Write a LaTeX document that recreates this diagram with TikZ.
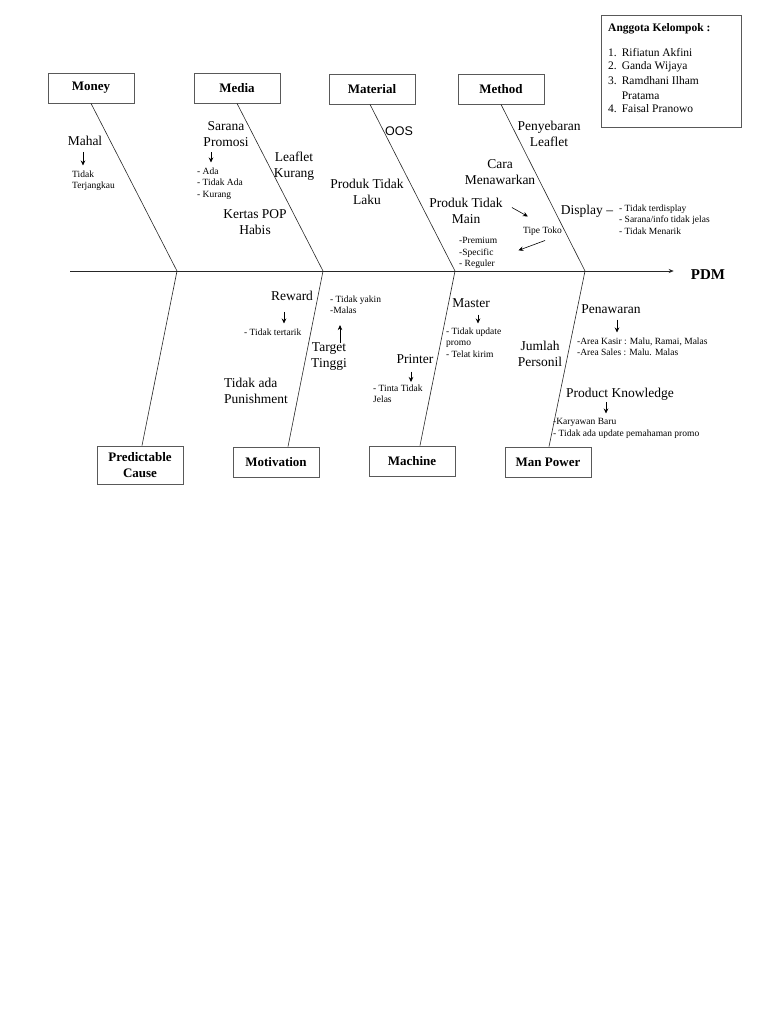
\documentclass[tikz,border=0pt]{standalone}
\usepackage{fontspec}
\setmainfont{Liberation Serif}
\setsansfont{Liberation Sans}
\usetikzlibrary{arrows.meta}

\begin{document}
\begin{tikzpicture}[
    x=1pt, y=-1pt,
    every node/.style={inner sep=0pt, font=\fontsize{13.5}{15.5}\selectfont},
    catbox/.style={draw=black!65, line width=0.8pt, minimum width=86pt, minimum height=30pt, align=center, font=\fontsize{13}{16}\selectfont\bfseries},
    cause/.style={align=center},
    detail/.style={align=left, anchor=north west, font=\fontsize{9.5}{11.5}\selectfont},
    bone/.style={line width=0.6pt, black!85},
    arrow/.style={-{Stealth[length=5pt, width=4.5pt]}, line width=0.6pt, shorten <=6pt, shorten >=5pt}
]
\useasboundingbox (0,0) rectangle (768,1024);

\node[catbox] (money) at (91,88) {Money};
\node[catbox] (media) at (237,88) {Media};
\node[catbox] (material) at (372,89) {Material};
\node[catbox] (method) at (501,89) {Method};
\node[catbox, minimum height=38pt] (predictable) at (140,465) {Predictable\\Cause};
\node[catbox] (motivation) at (276,462) {Motivation};
\node[catbox] (machine) at (412,461) {Machine};
\node[catbox] (manpower) at (548,462) {Man Power};

\node[draw=black!65, line width=0.8pt, anchor=north west, minimum width=140pt, minimum height=112pt] (anggota) at (601,15) {};
\node[anchor=north west, font=\fontsize{11.5}{13}\selectfont] (members) at (608,22) {\begin{tabular}{@{}l@{\hspace{5pt}}l@{}}
    \multicolumn{2}{@{}l@{}}{\textbf{Anggota Kelompok :}}\\[12pt]
    1. & Rifiatun Akfini\\
    2. & Ganda Wijaya\\[2pt]
    3. & Ramdhani Ilham\\[2pt]
       & Pratama\\[0.5pt]
    4. & Faisal Pranowo
\end{tabular}};

\coordinate (tail) at (70,271);
\coordinate (j1) at (177,271);
\coordinate (j2) at (323,271);
\coordinate (j3) at (455,271);
\coordinate (j4) at (585,271);
\node[font=\fontsize{15}{18}\selectfont\bfseries] (pdm) at (708,275) {PDM};

\draw[bone, -{Stealth[length=5pt, width=4pt]}, shorten >=17pt] (tail) -- (tail -| pdm.west);
\draw[bone] (money.south) -- (j1) -- ([xshift=2pt]predictable.north);
\draw[bone] (media.south) -- (j2) -- ([xshift=12pt]motivation.north);
\draw[bone] ([xshift=-2pt]material.south) -- (j3) -- ([xshift=8pt]machine.north);
\draw[bone] (method.south) -- (j4) -- ([xshift=1pt]manpower.north);

\node (mahal) at (85,141) {Mahal};
\node[detail] (mahalnote) at (72,170.5) {Tidak\\Terjangkau};
\node[cause] (sarana) at (226,134) {Sarana\\Promosi};
\node[detail] (saranalist) at (197,167.5) {- Ada\\- Tidak Ada\\- Kurang};
\node[cause] (leaflet) at (294,166) {Leaflet\\Kurang};
\node[cause] (kertas) at (255,222) {Kertas POP\\Habis};
\node[font=\fontsize{12.5}{15}\selectfont\sffamily] (oos) at (399,131) {OOS};
\node[cause] (produklaku) at (367,192) {Produk Tidak\\Laku};
\node[cause] (penyebaran) at (549,134) {Penyebaran\\Leaflet};
\node[cause] (cara) at (500,172) {Cara\\Menawarkan};
\node[cause] (produkmain) at (466,211) {Produk Tidak\\Main};
\node[font=\fontsize{9.5}{11.5}\selectfont] (tipetoko) at (542.5,231) {Tipe Toko};
\node[detail] (tipelist) at (459,237.5) {-Premium\\-Specific\\- Reguler};
\node (display) at (587,211.5) {Display –};
\node[detail] (displaylist) at (619,204.5) {- Tidak terdisplay\\- Sarana/info tidak jelas\\- Tidak Menarik};

\node (reward) at (292,296) {Reward};
\node[detail] (rewardnote) at (244,328.5) {- Tidak tertarik};
\node[detail] (targetnote) at (330,295.5) {- Tidak yakin\\-Malas};
\node[cause] (target) at (329,356.5) {Target\\Tinggi};
\node[align=left, anchor=north west] (punishment) at (224,378) {Tidak ada\\Punishment};
\node (master) at (471,303) {Master};
\node[detail] (masterlist) at (446,327.5) {- Tidak update\\promo\\- Telat kirim};
\node (printer) at (415,359) {Printer};
\node[detail] (printerlist) at (373,384.5) {- Tinta Tidak\\Jelas};
\node (penawaran) at (611,309) {Penawaran};
\node[detail] (penawaranlist) at (577,337.5) {-Area Kasir : Malu, Ramai, Malas\\-Area Sales : Malu. Malas};
\node[cause] (jumlah) at (540,354) {Jumlah\\Personil};
\node (knowledge) at (620,394.5) {Product Knowledge};
\node[detail] (knowledgelist) at (553,418.5) {-Karyawan Baru\\- Tidak ada update pemahaman promo};

\draw[arrow] ([xshift=-2pt]mahal.south) -- ([xshift=-2pt]mahal.south |- mahalnote.north);
\draw[arrow] ([xshift=-15pt]sarana.south) -- ([xshift=-15pt]sarana.south |- saranalist.north);
\draw[arrow, shorten <=0pt, shorten >=0pt] ([xshift=9pt, yshift=3.5pt]produkmain.east) -- ([xshift=5pt, yshift=10pt]tipetoko.north west);
\draw[arrow, shorten <=0pt, shorten >=0pt] ([xshift=2.5pt, yshift=-5pt]tipetoko.south) -- ([xshift=21pt, yshift=3pt]tipelist.east);
\draw[arrow, shorten <=11pt] ([xshift=-8pt]reward.south) -- ([xshift=-8pt]reward.south |- rewardnote.north);
\draw[arrow, shorten <=0pt, shorten >=11pt] ([xshift=11pt]target.north) -- ([xshift=11pt]target.north |- targetnote.south);
\draw[arrow, shorten <=7pt, shorten >=4pt] ([xshift=7pt]master.south) -- ([xshift=7pt]master.south |- masterlist.north);
\draw[arrow, shorten <=8pt, shorten >=2.5pt] ([xshift=-4pt]printer.south) -- ([xshift=-4pt]printer.south |- printerlist.north);
\draw[arrow] ([xshift=6pt]penawaran.south) -- ([xshift=6pt]penawaran.south |- penawaranlist.north);
\draw[arrow, shorten <=1pt] ([xshift=-14pt]knowledge.south) -- ([xshift=-14pt]knowledge.south |- knowledgelist.north);
\end{tikzpicture}
\end{document}
